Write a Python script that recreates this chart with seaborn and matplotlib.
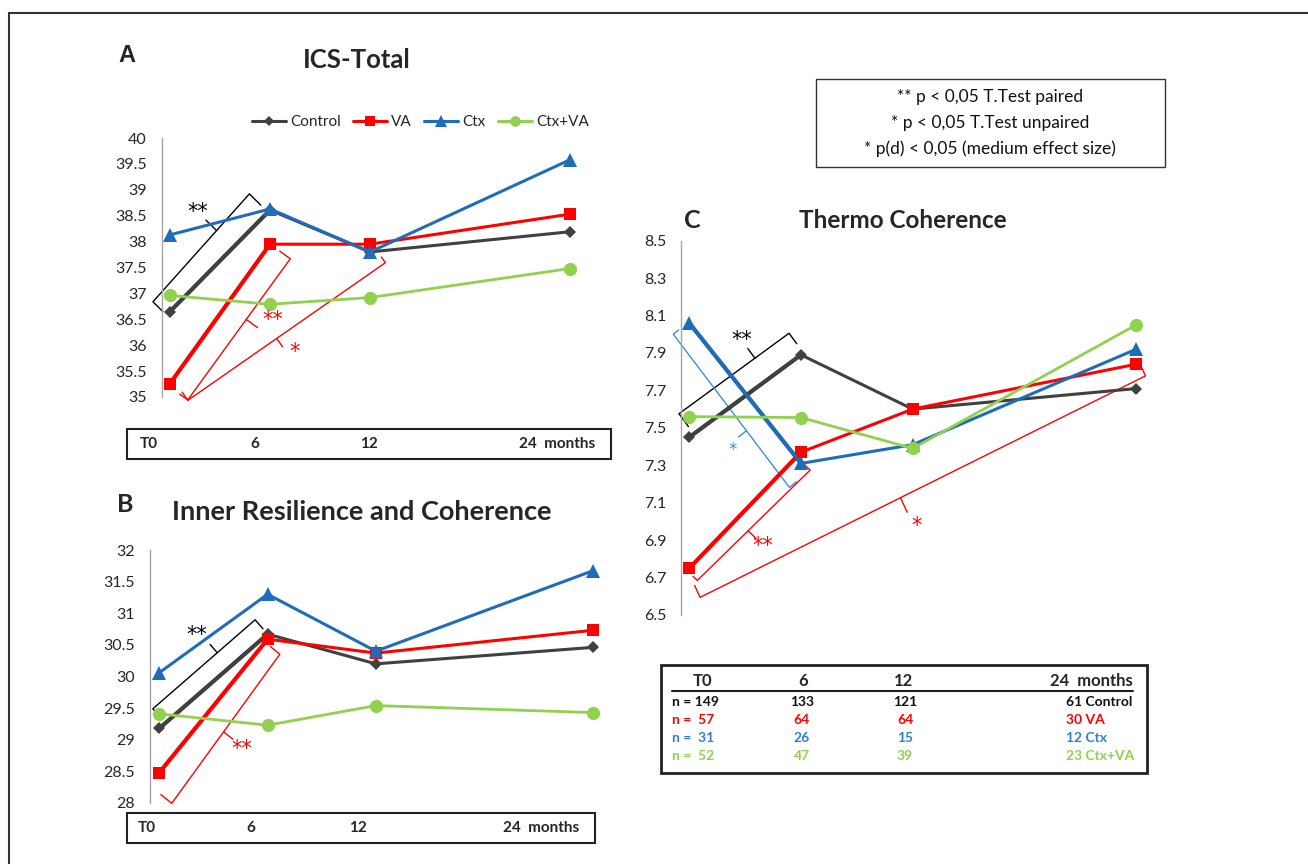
import numpy as np
import pandas as pd
import matplotlib
matplotlib.use("Agg")
import matplotlib.pyplot as plt
import seaborn as sns
from matplotlib.patches import Rectangle
from matplotlib.lines import Line2D
from matplotlib.ticker import FuncFormatter

# ---------------- data ----------------
months = [0, 6, 12, 24]
groups = ["Control", "VA", "Ctx", "Ctx+VA"]

ics_control = [36.65, 38.61, 37.80, 38.19]
ics_va = [35.26, 37.95, 37.95, 38.53]
ics_ctx = [38.13, 38.63, 37.80, 39.58]
ics_ctxva = [36.96, 36.79, 36.92, 37.48]

irc_control = [29.18, 30.67, 30.20, 30.46]
irc_va = [28.48, 30.59, 30.37, 30.73]
irc_ctx = [30.06, 31.30, 30.40, 31.67]
irc_ctxva = [29.41, 29.23, 29.54, 29.43]

thermo_control = [7.45, 7.89, 7.60, 7.71]
thermo_va = [6.75, 7.37, 7.60, 7.84]
thermo_ctx = [8.06, 7.31, 7.41, 7.92]
thermo_ctxva = [7.56, 7.555, 7.39, 8.05]

n_control = [149, 133, 121, 61]
n_va = [57, 64, 64, 30]
n_ctx = [31, 26, 15, 12]
n_ctxva = [52, 47, 39, 23]

time_labels = ["T0", "6", "12", "24  months"]

legend_lines = ["** p < 0,05 T.Test paired",
                "* p < 0,05 T.Test unpaired",
                "* p(d) < 0,05 (medium effect size)"]

# ---------------- style ----------------
sns.set_style("white")
plt.rcParams["font.family"] = ["Lato", "DejaVu Sans"]

W, H = 1308, 864
fig = plt.figure(figsize=(W / 100, H / 100), dpi=100)

colors = {"Control": "#404040", "VA": "#ff0000", "Ctx": "#1f6cb8", "Ctx+VA": "#92d050"}
thick_colors = {"Control": "#3a3a3a", "VA": "#ff0000", "Ctx": "#1d5fa8", "Ctx+VA": "#92d050"}
markers = {"Control": "D", "VA": "s", "Ctx": "^", "Ctx+VA": "o"}
msizes = {"Control": 6.5, "VA": 9, "Ctx": 10, "Ctx+VA": 9.5}
lwidths = {"Control": 2.2, "VA": 2.2, "Ctx": 2.2, "Ctx+VA": 2.0}


def fx(x):
    return x / W


def fy(y):
    return 1 - y / H


def ftext(x, y, s, **kw):
    fig.text(fx(x), fy(y), s, **kw)


def frect(x0, y0, x1, y1, lw=1.5, ec="#222222"):
    fig.add_artist(Rectangle((fx(x0), fy(y1)), fx(x1) - fx(x0), fy(y0) - fy(y1),
                             transform=fig.transFigure, fill=False, lw=lw, ec=ec))


def brace(ax, x0, y0, x1, y1, side, off0, off1, ext0, ext1, hook0, hook1,
          frac, tick, ldist, lshift, color, label, fs=15):
    T = ax.transData
    p0 = np.array(T.transform((x0, y0)))
    p1 = np.array(T.transform((x1, y1)))
    d = (p1 - p0) / np.linalg.norm(p1 - p0)
    n = side * np.array([-d[1], d[0]])
    a = p0 + n * off0 + d * ext0
    b = p1 + n * off1 + d * ext1
    pts = np.array([a - n * hook0, a, b, b - n * hook1])
    m = a + (b - a) * frac
    tk = np.array([m, m + n * tick])
    inv = T.inverted()
    P = inv.transform(pts)
    K = inv.transform(tk)
    ax.plot(P[:, 0], P[:, 1], color=color, lw=1.0, clip_on=False, zorder=1)
    ax.plot(K[:, 0], K[:, 1], color=color, lw=1.0, clip_on=False, zorder=1)
    lp = inv.transform(m + n * (tick + ldist) + d * lshift)
    ax.text(lp[0], lp[1], label, color=color, fontsize=fs, ha="center", va="center",
            family="DejaVu Sans", clip_on=False)


def make_panel(box, ylim, yticks, fmt, pad, x0px, pxmo, series, thick):
    l, t, r, b = box
    ax = fig.add_axes([fx(l), fy(b), fx(r) - fx(l), fy(t) - fy(b)])
    ax.set_xlim((l - x0px) / pxmo, (r - x0px) / pxmo)
    ax.set_ylim(*ylim)
    frames = []
    for g, vals in zip(groups, series):
        frames.append(pd.DataFrame({"month": months, "value": vals, "group": g}))
    df = pd.concat(frames, ignore_index=True)
    for g in groups:
        sub = df[df["group"] == g]
        if g in thick:
            sns.lineplot(data=sub.iloc[:2], x="month", y="value", color=thick_colors[g],
                         linewidth=3.0, ax=ax, legend=False, errorbar=None,
                         zorder=2)
        sns.lineplot(data=sub, x="month", y="value", color=colors[g],
                     marker=markers[g], markersize=msizes[g], markeredgewidth=0,
                     linewidth=lwidths[g], ax=ax, legend=False, errorbar=None,
                     zorder=3)
    for lines in ax.get_lines():
        lines.set_clip_on(False)
    for s in ["top", "right", "bottom"]:
        ax.spines[s].set_visible(False)
    ax.spines["left"].set_color("#a6a6a6")
    ax.spines["left"].set_linewidth(1.0)
    ax.set_yticks(yticks)
    ax.yaxis.set_major_formatter(FuncFormatter(fmt))
    ax.tick_params(axis="y", length=0, pad=pad, labelsize=11.5, labelcolor="#262626")
    ax.set_xticks([])
    ax.set_xlabel("")
    ax.set_ylabel("")
    ax.set_facecolor("none")
    return ax


fmt_g = lambda v, p: f"{v:g}"
fmt_1 = lambda v, p: f"{v:.1f}"

# ---------------- panel A ----------------
axA = make_panel((162, 138, 600, 397), (35, 40), np.arange(35, 40.01, 0.5), fmt_g, 11,
                 170, 100 / 6, [ics_control, ics_va, ics_ctx, ics_ctxva], ["Control", "VA"])
brace(axA, months[0], ics_control[0], months[1], ics_control[1], +1, 19, 26, -5, -3, 14, 16,
      0.66, 15, 12, 0, "black", "**")
brace(axA, months[0], ics_va[0], months[1], ics_va[1], -1, 24, 25, -3, 0, 10, 13,
      0.57, 14, 8, 15, "red", "**")
brace(axA, months[0], ics_va[0], months[2], ics_va[2], -1, 24, 24, 5, 2, 10, 7,
      0.45, 10, 12, 7, "red", "*")

# ---------------- panel B ----------------
axB = make_panel((150, 550, 610, 803), (28, 32), np.arange(28, 32.01, 0.5), fmt_g, 11,
                 159.3, 108.3 / 6, [irc_control, irc_va, irc_ctx, irc_ctxva], ["Control", "VA"])
brace(axB, months[0], irc_control[0], months[1], irc_control[1], +1, 19, 19, 8, 0, 12, 12,
      0.63, 11, 16, -4, "black", "**")
brace(axB, months[0], irc_va[0], months[1], irc_va[1], -1, 29, 19, -16, -4, 14, 12,
      0.48, 12, 13, -2.5, "red", "**")

# ---------------- panel C ----------------
axC = make_panel((680.7, 240.7, 1150, 615), (6.5, 8.5), np.arange(6.5, 8.51, 0.2), fmt_1, 10,
                 689.3, 111.7 / 6, [thermo_control, thermo_va, thermo_ctx, thermo_ctxva],
                 ["Control", "VA", "Ctx"])
brace(axC, months[0], thermo_control[0], months[1], thermo_control[1], +1, 25, 24.5, 5.6, 3.2,
      16, 13, 0.69, 12, 10, 0, "black", "**")
brace(axC, months[0], thermo_ctx[0], months[1], thermo_ctx[1], -1, 19.5, 24, -1.2, 11.5,
      7, 9, 0.63, 10, 13, 6, "#3a8fd9", "*", fs=12)
brace(axC, months[0], thermo_va[0], months[1], thermo_va[1], -1, 14.3, 19, -3.2, -6.6,
      6, 10, 0.45, 11, 10, -1.4, "red", "**")
brace(axC, months[0], thermo_va[0], months[3], thermo_va[3], -1, 31, 14.5, -2.3, 3.7,
      13, 11, 0.45, 16, 16, 2.6, "red", "*")

# ---------------- titles / letters ----------------
ftext(127, 55, "A", family="Liberation Sans", fontweight="bold", fontsize=17, ha="center", va="center")
ftext(125, 505, "B", fontweight="bold", fontsize=18, ha="center", va="center")
ftext(692, 220, "C", fontweight="bold", fontsize=18, ha="center", va="center")
ftext(357, 60, "ICS-Total", fontweight="bold", fontsize=18.5, ha="center", va="center")
ftext(362, 512, "Inner Resilience and Coherence", fontweight="bold", fontsize=19.5, ha="center", va="center")
ftext(903, 220, "Thermo Coherence", fontweight="bold", fontsize=17.5, ha="center", va="center")

# ---------------- legend in A ----------------
handles = [Line2D([], [], color=colors[g], marker=markers[g], markersize=msizes[g] * 0.8,
                  markeredgewidth=0, lw=2.2) for g in groups]
fig.legend(handles, groups, loc="center left", bbox_to_anchor=(fx(252), fy(122)), ncol=4,
           frameon=False, handlelength=2.2, handletextpad=0.3, columnspacing=0.8,
           fontsize=11, borderpad=0, borderaxespad=0)

# ---------------- time boxes ----------------
frect(127, 429, 611, 459)
for lab, xp, ha in zip(time_labels, [140, 255, 369, 519], ["left", "center", "center", "left"]):
    ftext(xp, 444, lab, fontweight="bold", fontsize=11, ha=ha, va="center")
frect(127, 813, 595, 843)
for lab, xp, ha in zip(time_labels, [138, 251, 358, 503], ["left", "center", "center", "left"]):
    ftext(xp, 828, lab, fontweight="bold", fontsize=11, ha=ha, va="center")

# ---------------- p-value box ----------------
frect(816, 79, 1165, 167, lw=1.0, ec="#333333")
for s, yp in zip(legend_lines, [97, 123, 149]):
    ftext(990, yp, s, fontsize=12.5, ha="center", va="center", color="#111111")

# ---------------- n table ----------------
frect(661, 665, 1147, 773, lw=2.0, ec="#222222")
fig.add_artist(Line2D([fx(672), fx(1133)], [fy(691), fy(691)], transform=fig.transFigure,
                      color="#222222", lw=1.5))
for lab, xp, ha in zip(time_labels, [703, 803, 903, 1133], ["center", "center", "center", "right"]):
    ftext(xp, 681, lab, fontweight="bold", fontsize=12, ha=ha, va="center")
tcolors = {"Control": "#111111", "VA": "#ff0000", "Ctx": "#2e7fd0", "Ctx+VA": "#92d050"}
for g, ns, yp in zip(groups, [n_control, n_va, n_ctx, n_ctxva], [702, 720.5, 738.5, 756.5]):
    c = tcolors[g]
    first = f"n = {ns[0]}" if ns[0] >= 100 else f"n =  {ns[0]}"
    ftext(672, yp, first, fontweight="bold", fontsize=10, ha="left", va="center", color=c)
    ftext(802, yp, str(ns[1]), fontweight="bold", fontsize=10, ha="center", va="center", color=c)
    ftext(905, yp, str(ns[2]), fontweight="bold", fontsize=10, ha="center", va="center", color=c)
    ftext(1066, yp, f"{ns[3]} {g}", fontweight="bold", fontsize=10, ha="left", va="center", color=c)

# ---------------- outer frame ----------------
fig.add_artist(Line2D([fx(9), 1.0], [fy(13), fy(13)], transform=fig.transFigure, color="#333333", lw=1.5))
fig.add_artist(Line2D([fx(9), fx(9)], [fy(13), 0.0], transform=fig.transFigure, color="#333333", lw=1.5))

fig.savefig("out.png", dpi=100)
